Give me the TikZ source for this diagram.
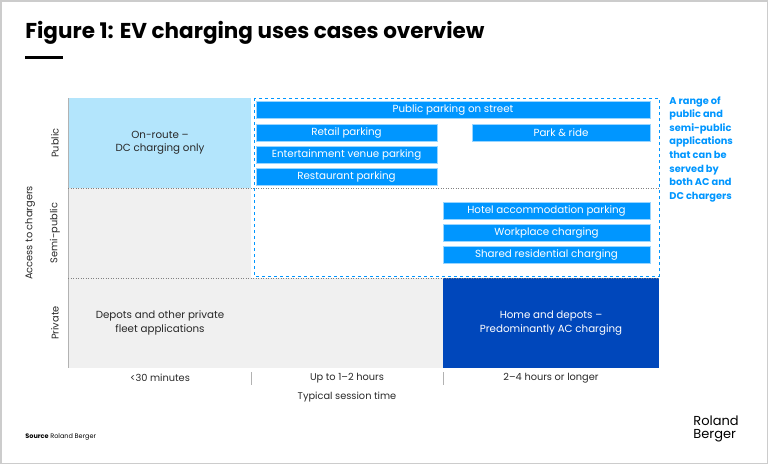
\documentclass[tikz,border=0pt]{standalone}
\usepackage{fontspec}
\setmainfont{Poppins}
\definecolor{rbtext}{RGB}{40,40,40}
\definecolor{rbbar}{RGB}{0,150,255}
\definecolor{rblight}{RGB}{179,229,252}
\definecolor{rbgray}{RGB}{240,240,240}
\definecolor{rbdark}{RGB}{0,71,187}
\tikzset{
  every picture/.style={line width=0.75pt},
  barbox/.style={fill=rbbar,draw=rbbar!40,line width=0.6pt,text=white,font=\fontsize{10.3}{12}\selectfont,inner sep=0pt},
  celltext/.style={text=rbtext,align=center,font=\fontsize{10.3}{13.5}\selectfont},
  axlabel/.style={text=rbtext,font=\fontsize{9.8}{12}\selectfont},
}
\begin{document}
\begin{tikzpicture}[x=1pt,y=-1pt]
\useasboundingbox (0,0) rectangle (768,464);
\draw[gray!40,line width=1.5pt] (0.75,0.75) rectangle (767.25,463.25);

% Title
\node (title) [anchor=west,inner sep=0pt,font=\bfseries\fontsize{21.5}{24}\selectfont] at (25,33) {Figure 1: EV charging uses cases overview};
\fill (25,56) rectangle (63,59);

% Cells
\fill[rblight] (68,98) rectangle (251,188);
\fill[rbgray] (68,188) rectangle (251,278);
\fill[rbgray] (68,278) rectangle (443,368);
\fill[rbdark] (443,278) rectangle (659,368);
\draw[gray!60,line width=0.5pt] (68,98) -- (68,368);
\draw[gray,dotted,line width=0.5pt] (68,188) -- (659,188);
\draw[gray,dotted,line width=0.5pt] (68,278) -- (659,278);
\fill[white] (254,189) rectangle (659,276);
\draw[rbbar,dashed,line width=0.8pt] (254,98) rectangle (659,276);

% Cell texts
\node (onroute) [celltext] at (160,143) {On-route –\\DC charging only};
\node (depots) [celltext] at (160,323) {Depots and other private\\fleet applications};
\node (home) [celltext,text=white] at (551,323) {Home and depots –\\Predominantly AC charging};

% Bars
\node (street) [barbox,minimum width=394pt,minimum height=17pt] at (453,110) {Public parking on street};
\node (retail) [barbox,minimum width=181pt,minimum height=17pt] at (346.5,132.5) {Retail parking};
\node (park) [barbox,minimum width=178pt,minimum height=17pt] at (561,132.5) {Park \& ride};
\node (venue) [barbox,minimum width=181pt,minimum height=17pt] at (346.5,154.5) {Entertainment venue parking};
\node (restaurant) [barbox,minimum width=181pt,minimum height=17pt] at (346.5,176.5) {Restaurant parking};
\node (hotel) [barbox,minimum width=207pt,minimum height=17pt] at (546.5,210.5) {Hotel accommodation parking};
\node (work) [barbox,minimum width=207pt,minimum height=17pt] at (546.5,232.5) {Workplace charging};
\node (shared) [barbox,minimum width=207pt,minimum height=17pt] at (546.5,254.5) {Shared residential charging};

% Note
\node (note) [anchor=north west,inner sep=0pt,text=rbbar,align=left,font=\bfseries\fontsize{9.8}{13.6}\selectfont] at (669,96) {A range of\\public and\\semi-public\\applications\\that can be\\served by\\both AC and\\DC chargers};

% Axes
\node (public) [axlabel,rotate=90] at (55,143) {Public};
\node (semi) [axlabel,rotate=90] at (55,233) {Semi-public};
\node (private) [axlabel,rotate=90] at (55,323) {Private};
\node (access) [axlabel,rotate=90] at (30,233) {Access to chargers};
\node (short) [axlabel] at (160,378) {<30 minutes};
\node (mid) [axlabel] at (347,378) {Up to 1–2 hours};
\node (long) [axlabel] at (551,378) {2–4 hours or longer};
\node (session) [axlabel] at (347,397) {Typical session time};
\draw[gray!60,line width=0.5pt] (251,372) -- (251,385) (443,372) -- (443,385);

% Footer
\node (source) [anchor=west,inner sep=0pt,font=\fontsize{6.5}{8}\selectfont] at (25,437) {\textbf{Source} Roland Berger};
\node (logo) [anchor=north west,inner sep=0pt,align=left,font=\fontsize{13}{13.5}\selectfont] at (693,415) {Roland\\Berger};
\end{tikzpicture}
\end{document}
